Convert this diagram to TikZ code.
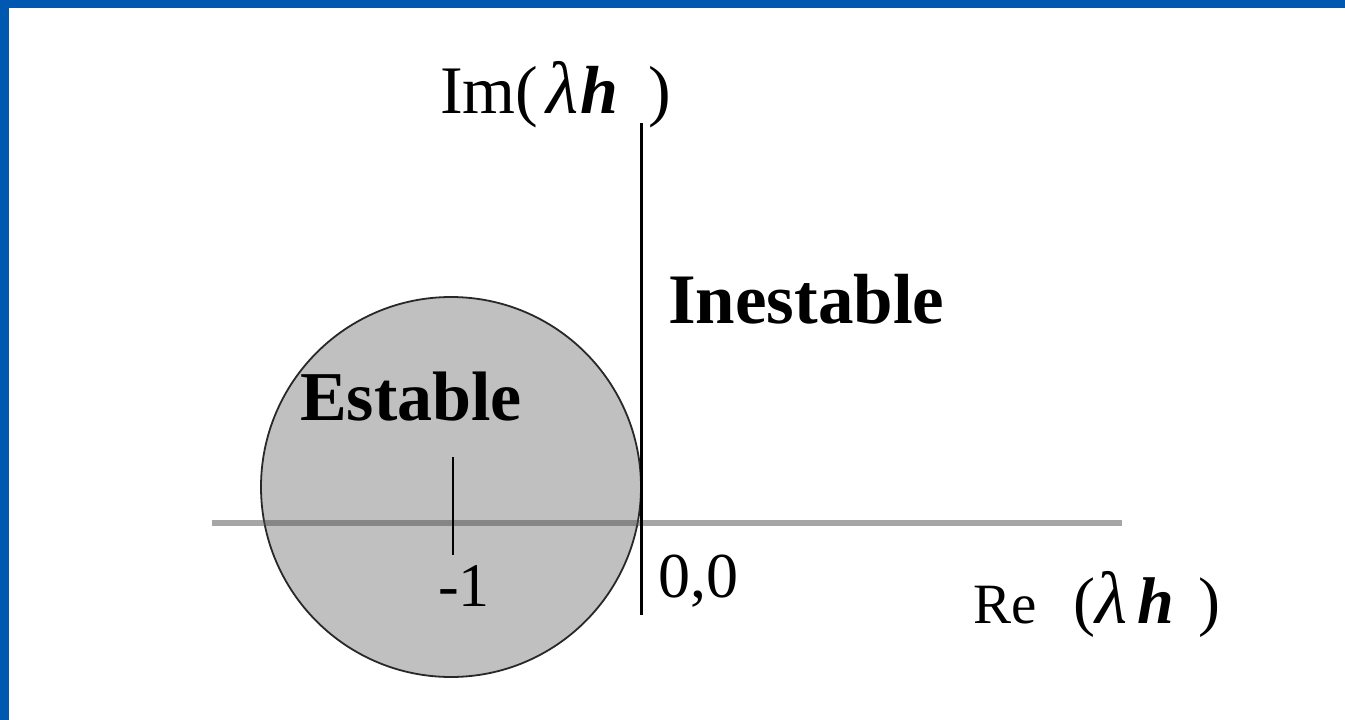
\documentclass[tikz,border=0pt]{standalone}
\usepackage{fontspec}
\setmainfont{Liberation Serif}
\definecolor{blueframe}{RGB}{0,88,176}
\definecolor{regionfill}{RGB}{192,192,192}
\definecolor{regionedge}{RGB}{40,40,40}
\definecolor{axisgray}{RGB}{78,78,78}
\newcommand{\biglam}{{\fontsize{74}{80}\selectfont\textit{λ}}}
\tikzset{
  stabregion/.style={circle, minimum size=380pt, inner sep=0pt, fill=regionfill, draw=regionedge, line width=1.8pt},
  realaxis/.style={draw=axisgray, draw opacity=0.5, line width=6.5pt},
  imagaxis/.style={draw=black, line width=3pt},
  tickline/.style={draw=black, line width=2pt},
  lbl/.style={inner sep=0pt, anchor=base west, text=black},
}
\begin{document}
\begin{tikzpicture}[x=1pt,y=-1pt]
\useasboundingbox (0,0) rectangle (1345,720);
\fill[white] (0,0) rectangle (1345,720);
\fill[blueframe] (0,0) rectangle (1345,8);
\fill[blueframe] (0,0) rectangle (9,720);
\node[stabregion] (stab) at (451,487) {};
\coordinate (xl) at (212,523);
\coordinate (xr) at (1122,523);
\draw[realaxis] (xl) -- (xr);
\coordinate (tt) at (453,457);
\coordinate (tb) at (453,555);
\draw[tickline] (tt) -- (tb);
\coordinate (yt) at (641,123);
\coordinate (yb) at (641,615);
\draw[imagaxis] (yt) -- (yb);
\node[lbl, font=\fontsize{68}{80}\selectfont] (imlbl) at (440,113) {Im(\hspace{8pt}\biglam\hspace{2pt}\textbf{\textit{h}}\hspace{30pt})};
\node[lbl, font=\fontsize{57}{68}\selectfont] (relbl) at (973,623) {Re\hspace{37pt}{\fontsize{66}{70}\selectfont(}\biglam\hspace{10pt}{\fontsize{66}{70}\selectfont\textbf{\textit{h}}\hspace{24pt})}};
\node[lbl, font=\fontsize{71}{84}\selectfont\bfseries] (inest) at (668,323) {Inestable};
\node[lbl, font=\fontsize{70}{84}\selectfont\bfseries] (est) at (300,420) {Estable};
\node[lbl, font=\fontsize{62}{74}\selectfont] (m1) at (438,606) {-1};
\node[lbl, font=\fontsize{64}{76}\selectfont] (orig) at (658,597) {0,0};
\end{tikzpicture}
\end{document}
